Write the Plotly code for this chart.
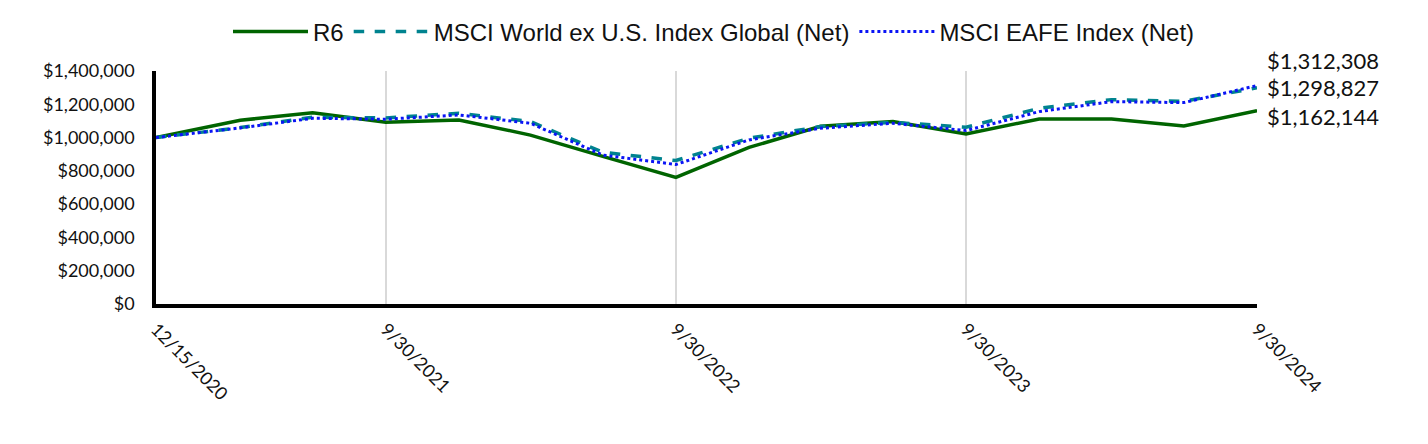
import plotly.graph_objects as go

dates = ["2020-12-15", "2021-03-31", "2021-06-30", "2021-09-30", "2021-12-31",
         "2022-03-31", "2022-06-30", "2022-09-30", "2022-12-31", "2023-03-31",
         "2023-06-30", "2023-09-30", "2023-12-31", "2024-03-31", "2024-06-30",
         "2024-09-30"]
r6 = [1000000, 1104000, 1149000, 1092000, 1106000, 1015000, 887000, 761000,
      941000, 1068000, 1096000, 1021000, 1112000, 1112000, 1070000, 1162144]
world_ex_us = [1000000, 1060000, 1122000, 1118000, 1146000, 1096000, 912000, 862000,
               996000, 1066000, 1092000, 1062000, 1176000, 1228000, 1218000, 1298827]
eafe = [1000000, 1058000, 1116000, 1110000, 1136000, 1086000, 895000, 838000,
        986000, 1056000, 1086000, 1042000, 1156000, 1216000, 1210000, 1312308]

tick_vals = ["2020-12-15", "2021-09-30", "2022-09-30", "2023-09-30", "2024-09-30"]
tick_text = ["12/15/2020", "9/30/2021", "9/30/2022", "9/30/2023", "9/30/2024"]
y_ticks = [0, 200000, 400000, 600000, 800000, 1000000, 1200000, 1400000]
y_text = ["$0", "$200,000", "$400,000", "$600,000", "$800,000", "$1,000,000",
          "$1,200,000", "$1,400,000"]

end_labels = ["$1,312,308", "$1,298,827", "$1,162,144"]
end_values = [1312308, 1298827, 1162144]
end_shifts = [25, 0, -6]

tick_font = dict(family="Lato, DejaVu Sans, sans-serif", size=18, color="#111")

fig = go.Figure()
fig.add_trace(go.Scatter(x=dates, y=r6, mode="lines", name="R6",
                         line=dict(color="#006400", width=3.5)))
fig.add_trace(go.Scatter(x=dates, y=world_ex_us, mode="lines",
                         name="MSCI World ex U.S. Index Global (Net)",
                         line=dict(color="#00838F", width=3.5, dash="dash")))
fig.add_trace(go.Scatter(x=dates, y=eafe, mode="lines", name="MSCI EAFE Index (Net)",
                         line=dict(color="#0A14F5", width=3, dash="dot")))

for lab, v, s in zip(end_labels, end_values, end_shifts):
    fig.add_annotation(x=1, xref="paper", y=v, yref="y", text=lab, showarrow=False,
                       xanchor="left", yanchor="middle", xshift=8, yshift=s,
                       font=dict(family="Lato, DejaVu Sans, sans-serif", size=22, color="#111"))

fig.update_layout(
    width=1428, height=444,
    margin=dict(l=156, r=171, t=71, b=140, autoexpand=False),
    paper_bgcolor="white", plot_bgcolor="white",
    showlegend=True,
    legend=dict(orientation="h", x=0.5, xref="container", xanchor="center",
                y=1 - 32 / 444, yref="container", yanchor="middle",
                font=dict(family="Liberation Sans, Arial, sans-serif", size=24, color="#111"),
                itemwidth=75),
    xaxis=dict(type="date", range=["2020-12-15", "2024-09-30"],
               tickvals=tick_vals, ticktext=tick_text, tickangle=45,
               showgrid=True, gridcolor="#d9d9d9", gridwidth=1.5,
               showline=True, linecolor="black", linewidth=3.5,
               ticks="", zeroline=False, ticklabelstandoff=4,
               tickfont=tick_font),
    yaxis=dict(range=[0, 1400000], tickvals=y_ticks, ticktext=y_text,
               showgrid=False, showline=True, linecolor="black", linewidth=3.5,
               ticks="", zeroline=False, ticklabelstandoff=14,
               tickfont=tick_font),
)

fig.write_html("out.html")
